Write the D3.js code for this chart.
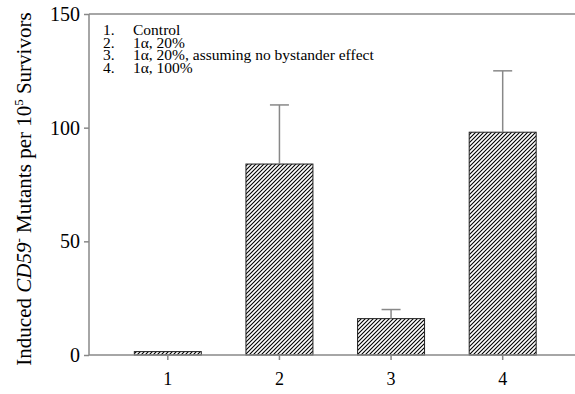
<!DOCTYPE html>
<html>
<head>
<meta charset="utf-8">
<script src="https://cdn.jsdelivr.net/npm/d3@7"></script>
<style>
  body { margin: 0; background: #fff; }
  svg text { font-family: "Liberation Serif", "Times New Roman", Times, serif; }
</style>
</head>
<body>
<script>
"use strict";

// chart data
const categories = ["1", "2", "3", "4"];
const means = [1.5, 84, 16, 98];
const errors = [0, 26, 4, 27];
const legendNums = ["1.", "2.", "3.", "4."];
const legendLabels = ["Control", "1\u03b1, 20%", "1\u03b1, 20%, assuming no bystander effect", "1\u03b1, 100%"];
const yTicks = [0, 50, 100, 150];

const width = 575, height = 394;
const plot = { left: 89, right: 575, top: 14, bottom: 355 };
const serif = "'Liberation Serif', 'Times New Roman', Times, serif";

const svg = d3.select("body").append("svg")
  .attr("width", width)
  .attr("height", height);

// hatch fill
const defs = svg.append("defs");
defs.append("pattern")
  .attr("id", "hatch")
  .attr("patternUnits", "userSpaceOnUse")
  .attr("width", 4)
  .attr("height", 4)
  .append("path")
  .attr("d", "M-1,1 l2,-2 M0,4 l4,-4 M3,5 l2,-2")
  .attr("stroke", "#000")
  .attr("stroke-width", 1.1);

const x = d3.scaleBand()
  .domain(categories)
  .range([112, 558.5])
  .paddingInner(0.4)
  .paddingOuter(0.2);

const y = d3.scaleLinear()
  .domain([0, 150])
  .range([plot.bottom, plot.top]);

// top frame line
svg.append("line")
  .attr("x1", plot.left).attr("x2", plot.right)
  .attr("y1", plot.top).attr("y2", plot.top)
  .attr("stroke", "#888").attr("stroke-width", 1.5);

// bars
svg.selectAll(".bar")
  .data(means)
  .enter()
  .append("rect")
  .attr("class", "bar")
  .attr("x", (d, i) => x(categories[i]))
  .attr("y", d => y(d))
  .attr("width", x.bandwidth())
  .attr("height", d => y(0) - y(d))
  .attr("fill", "url(#hatch)")
  .attr("stroke", "#222")
  .attr("stroke-width", 1);

// error bars (upper only)
const errG = svg.append("g").attr("stroke", "#888").attr("stroke-width", 1.5);
means.forEach((m, i) => {
  if (!errors[i]) return;
  const cx = x(categories[i]) + x.bandwidth() / 2;
  errG.append("line")
    .attr("x1", cx).attr("x2", cx)
    .attr("y1", y(m)).attr("y2", y(m + errors[i]));
  errG.append("line")
    .attr("x1", cx - 9.5).attr("x2", cx + 9.5)
    .attr("y1", y(m + errors[i])).attr("y2", y(m + errors[i]));
});

// y axis
const yAxis = svg.append("g")
  .attr("transform", `translate(${plot.left},0)`)
  .call(d3.axisLeft(y).tickValues(yTicks).tickSize(5).tickPadding(4));
yAxis.select(".domain").attr("stroke", "#888").attr("stroke-width", 1.5)
  .attr("d", `M0,${plot.bottom}V${plot.top}`);
yAxis.selectAll(".tick line").attr("stroke", "#888").attr("stroke-width", 1.5);
yAxis.selectAll(".tick text")
  .style("font-family", serif)
  .style("font-size", "20px")
  .attr("fill", "#000");

// x axis
const xAxis = svg.append("g")
  .attr("transform", `translate(0,${plot.bottom})`)
  .call(d3.axisBottom(x).tickSize(5).tickPadding(12));
xAxis.select(".domain").attr("stroke", "#888").attr("stroke-width", 1.5)
  .attr("d", `M${plot.left},0H${plot.right}`);
xAxis.selectAll(".tick line").attr("stroke", "#888").attr("stroke-width", 1.5);
xAxis.selectAll(".tick text")
  .style("font-family", serif)
  .style("font-size", "18px")
  .attr("fill", "#000");

// y axis title
const title = svg.append("text")
  .attr("transform", "translate(31,189) rotate(-90)")
  .attr("text-anchor", "middle")
  .style("font-family", serif)
  .style("font-size", "21px")
  .attr("fill", "#000");
title.append("tspan").text("Induced ");
title.append("tspan").style("font-style", "italic").text("CD59");
title.append("tspan").style("font-size", "13px").attr("dy", -8).text("-");
title.append("tspan").attr("dy", 8).text("  Mutants per 10");
title.append("tspan").style("font-size", "13px").attr("dy", -8).text("5");
title.append("tspan").attr("dy", 8).text(" Survivors");

// legend
const legend = svg.append("g")
  .style("font-family", serif)
  .style("font-size", "15.5px")
  .attr("fill", "#000");
legendNums.forEach((n, i) => {
  legend.append("text")
    .attr("x", 103).attr("y", 35 + i * 12.7)
    .text(n);
  legend.append("text")
    .attr("x", 133).attr("y", 35 + i * 12.7)
    .text(legendLabels[i]);
});
</script>
</body>
</html>
